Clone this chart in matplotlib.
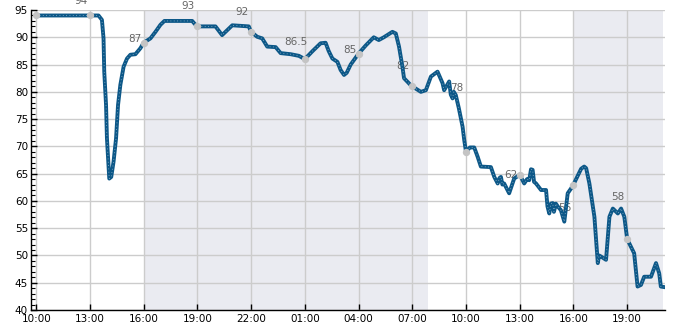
import matplotlib
matplotlib.use("Agg")
import matplotlib.pyplot as plt
import matplotlib.dates as mdates
from matplotlib.ticker import MultipleLocator
import numpy as np
from datetime import datetime, timedelta

# ---- data -------------------------------------------------------------
start = datetime(2024, 1, 1, 10, 0)

# hours since start, measured value
hours = [0.0, 3.48, 3.67, 3.76, 3.80, 3.90, 3.95, 4.04, 4.08, 4.19, 4.32, 4.46,
         4.57, 4.70, 4.88, 5.07, 5.26, 5.54, 5.82, 6.0, 6.38, 6.66, 6.94, 7.16,
         8.71, 8.84, 9.0, 10.01, 10.38, 10.63, 10.95, 11.87, 12.0, 12.34, 12.62,
         12.90, 13.37, 13.65, 14.21, 14.67, 15.0, 15.44, 15.88, 16.16, 16.33,
         16.54, 16.82, 17.0, 17.19, 17.34, 17.56, 18.0, 18.40, 18.85, 19.13,
         19.41, 19.89, 20.08, 20.26, 20.45, 20.54, 20.92, 21.0, 21.48, 21.76,
         22.04, 22.41, 22.69, 22.78, 23.06, 23.15, 23.25, 23.32, 23.43, 23.60,
         23.81, 23.90, 24.0, 24.22, 24.46, 24.65, 24.83, 25.39, 25.58, 25.77,
         25.87, 25.95, 26.03, 26.13, 26.41, 26.69, 27.0, 27.25, 27.41, 27.53,
         27.63, 27.72, 27.80, 27.91, 28.19, 28.47, 28.55, 28.65, 28.74, 28.84,
         28.91, 29.02, 29.12, 29.30, 29.49, 29.68, 29.87, 30.0, 30.43, 30.6,
         30.71, 30.89, 31.17, 31.36, 31.43, 31.54, 31.82, 32.01, 32.20, 32.48,
         32.66, 32.84, 33.0, 33.39, 33.58, 33.77, 33.95, 34.33, 34.61, 34.79,
         34.88, 35.07]
values = [94, 94, 93.2, 89.8, 83.7, 77.6, 71.5, 66.6, 64.1, 64.4, 67.2, 71.5,
          77.6, 81.3, 84.6, 86.1, 86.8, 86.9, 88, 89, 89.8, 91, 92.3, 93,
          93, 92.5, 92, 92, 90.4, 91.2, 92.2, 92, 91, 90.1, 89.8,
          88.3, 88.2, 87.1, 86.9, 86.6, 86, 87.5, 88.9, 89, 87.5,
          86.1, 85.5, 84, 83.1, 83.5, 85, 87, 88.5, 90, 89.5,
          90, 91, 90.7, 88.3, 84.6, 82.5, 81.2, 81, 80, 80.3,
          82.8, 83.7, 81.6, 80.3, 81.9, 79.5, 78.8, 80, 79.4, 77,
          73.6, 71.2, 69, 69.8, 69.8, 68.1, 66.3, 66.2, 64.4, 63.2,
          64.2, 64.4, 63, 63.2, 61.4, 64.1, 64.8, 63.2, 64, 63.8,
          65.8, 65.7, 63.5, 63.2, 62, 62, 59, 57.7, 59.5, 59.6,
          58, 59.5, 59, 58.3, 56.2, 61.4, 62.3, 63, 65.9, 66.3,
          66, 63.2, 57.1, 48.6, 50, 49.8, 49.2, 57.1, 58.6, 57.7,
          58.6, 57.1, 53, 50.4, 44.3, 44.6, 46.1, 46.1, 48.6, 46.7,
          44.3, 44.2]

# marked points every 3 hours and their labels
mark_hours = [0, 3, 6, 9, 12, 15, 18, 21, 24, 27, 30, 33]
mark_values = [94, 94, 89, 92, 91, 86, 87, 81, 69, 64.8, 63, 53]
label_hours = [3, 6, 9, 12, 15, 18, 21, 24, 27, 30, 33]
label_values = [94, 87, 93, 92, 86.5, 85, 82, 78, 62, 56, 58]
label_texts = ["94", "87", "93", "92", "86.5", "85", "82", "78", "62", "56", "58"]

# shaded periods (hours since start)
shade_periods = [(6.0, 21.9), (30.0, 35.0)]

# ---- plot -------------------------------------------------------------
def t(h):
    return start + timedelta(hours=h)

times = [t(h) for h in hours]
mtimes = [t(h) for h in mark_hours]
ltimes = [t(h) for h in label_hours]

fig = plt.figure(figsize=(6.85, 3.3), dpi=100)
ax = fig.add_axes([0.045, 0.0606, 0.926, 0.909])

for a, b in shade_periods:
    ax.axvspan(t(a), t(b), color="#eaebf1", lw=0, zorder=0)

ax.grid(True, color="#cccccc", lw=1, zorder=1)
ax.set_axisbelow(True)

for lt, lv, txt in zip(ltimes, label_values, label_texts):
    ax.annotate(txt, (lt, lv), xytext=(-6.5, 8.5), textcoords="offset points",
                ha="center", va="baseline", color="#666666", fontsize=7.5,
                annotation_clip=False, zorder=2)

ax.plot(times, values, color="#0d5888", lw=2.8, solid_joinstyle="round",
        zorder=3)
ax.plot(times, values, color="#ffffff", alpha=0.55, lw=0.6,
        linestyle=(0, (1, 3)), zorder=4)
ax.scatter(mtimes, mark_values, s=28, color="#c4c4c4", zorder=5, lw=0)

ax.set_ylim(40, 95)
ax.set_xlim(t(-0.3), t(35.12))
ax.yaxis.set_major_locator(MultipleLocator(5))
ax.yaxis.set_minor_locator(MultipleLocator(1))
ax.xaxis.set_major_locator(mdates.HourLocator(byhour=range(1, 24, 3)))
ax.xaxis.set_major_formatter(mdates.DateFormatter("%H:%M"))

for s in ["top", "right"]:
    ax.spines[s].set_visible(False)
for s in ["left", "bottom"]:
    ax.spines[s].set_color("black")
    ax.spines[s].set_linewidth(1)

ax.tick_params(axis="both", which="major", direction="in", length=4,
               width=1, labelsize=7.5, colors="black", pad=2)
ax.tick_params(axis="y", which="minor", direction="in", length=3, width=0.8)
ax.tick_params(axis="x", which="major", pad=3)

fig.savefig("out.png", dpi=100)
